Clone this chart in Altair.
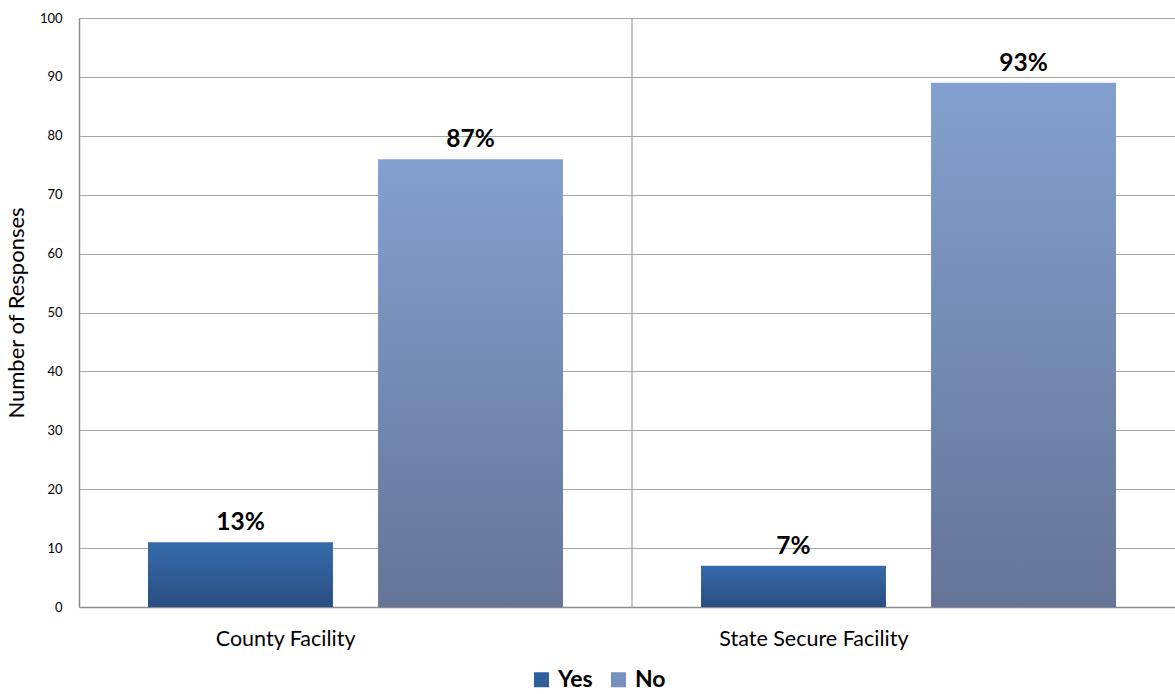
import altair as alt
import pandas as pd

categories = ["County Facility", "County Facility", "State Secure Facility", "State Secure Facility"]
series = ["Yes", "No", "Yes", "No"]
values = [11, 76, 7, 89]
pct_labels = ["13%", "87%", "7%", "93%"]
y_ticks = [0, 10, 20, 30, 40, 50, 60, 70, 80, 90, 100]

df = pd.DataFrame({"cat": categories, "series": series, "value": values, "label": pct_labels})
sep = pd.DataFrame({"cat": ["State Secure Facility"]})

FONT = "Lato"
W, H = 1096, 589
CAT_ORDER = ["County Facility", "State Secure Facility"]

x_scale = alt.Scale(paddingInner=0, paddingOuter=0, range=[0, 1106])
x_enc = alt.X("cat:N", title=None, sort=CAT_ORDER, scale=x_scale,
              axis=alt.Axis(labelAngle=0, ticks=False, labelPadding=32, labelFontSize=21.5,
                            labelLimit=500,
                            labelFont=FONT, labelColor="#000000", domainColor="#8c8c8c",
                            domainWidth=1.5, grid=False))
xo_enc = alt.XOffset("series:N", sort=["Yes", "No"],
                     scale=alt.Scale(paddingInner=0.196, paddingOuter=0.3))
y_enc = alt.Y("value:Q", title="Number of Responses",
              scale=alt.Scale(domain=[0, 100], nice=False),
              axis=alt.Axis(values=y_ticks, ticks=False, labelPadding=17, labelFontSize=13,
                            labelFont=FONT, labelColor="#000000", titleFont=FONT,
                            titleFontSize=22, titleFontWeight="normal", titleColor="#000000",
                            titlePadding=11, domainColor="#8c8c8c", domainWidth=1.5,
                            gridColor="#a6a6a6", gridWidth=1))

base = alt.Chart(df)

yes_grad = alt.Gradient(gradient="linear", x1=0, y1=0, x2=0, y2=1,
                        stops=[alt.GradientStop(color="#366aaa", offset=0),
                               alt.GradientStop(color="#2a4e82", offset=1)])
no_grad = alt.Gradient(gradient="linear", x1=0, y1=0, x2=0, y2=1,
                       stops=[alt.GradientStop(color="#83a0ce", offset=0),
                              alt.GradientStop(color="#657597", offset=1)])

bars_yes = base.transform_filter(alt.datum.series == "Yes").mark_bar(color=yes_grad).encode(
    x=x_enc, xOffset=xo_enc, y=y_enc)
bars_no = base.transform_filter(alt.datum.series == "No").mark_bar(color=no_grad).encode(
    x=x_enc, xOffset=xo_enc, y=y_enc)

legend_layer = base.mark_square(size=0, opacity=0).encode(
    x=x_enc, xOffset=xo_enc, y=y_enc,
    color=alt.Color("series:N", sort=["Yes", "No"],
                    scale=alt.Scale(domain=["Yes", "No"], range=["#30609c", "#7790bd"]),
                    legend=alt.Legend(title=None, orient="none", direction="horizontal",
                                      legendX=451, legendY=650, symbolType="square",
                                      symbolSize=225, symbolOpacity=1, symbolStrokeWidth=0,
                                      labelFont=FONT, labelFontSize=23, labelFontWeight="bold",
                                      labelColor="#000000", labelOffset=5, columnPadding=14)))

labels = base.mark_text(dy=-12, fontSize=24.5, fontWeight="bold", font=FONT,
                        color="#000000", baseline="alphabetic").encode(
    x=x_enc, xOffset=xo_enc, y=y_enc, text="label:N")

separator = alt.Chart(sep).mark_rule(color="#8c8c8c", strokeWidth=1).encode(
    x=alt.X("cat:N", bandPosition=0, sort=CAT_ORDER, scale=x_scale),
    y=alt.value(0), y2=alt.value(H))

chart = alt.layer(separator, bars_yes, bars_no, legend_layer, labels).properties(
    width=W, height=H,
    autosize=alt.AutoSizeParams(type="none"),
    padding={"left": 79, "top": 18, "right": 0, "bottom": 87},
).configure_view(stroke=None).configure(background="#ffffff")

chart.save("out.html", embed_options={"renderer": "svg", "actions": False})
